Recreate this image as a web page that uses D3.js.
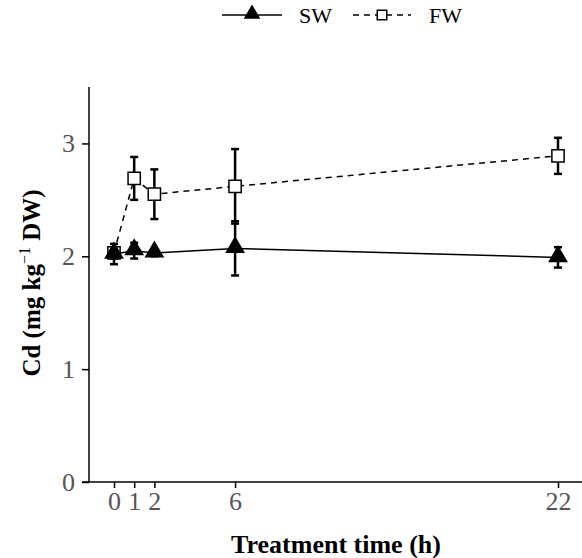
<!DOCTYPE html>
<html lang="en">
<head>
<meta charset="utf-8">
<script src="https://d3js.org/d3.v7.min.js"></script>
<style>
  body { margin: 0; background: #fff; }
  text { font-family: "Liberation Serif", "Times New Roman", serif; }
</style>
</head>
<body>
<script>
// hours sampled
var hours = [0, 1, 2, 6, 22];
// SW series: mean and error (SD)
var swMean = [2.02, 2.05, 2.03, 2.07, 1.99];
var swErr  = [0.09, 0.07, 0.03, 0.24, 0.09];
// FW series
var fwMean = [2.03, 2.69, 2.55, 2.62, 2.89];
var fwErr  = [0.05, 0.19, 0.22, 0.33, 0.16];
var yTicks = [0, 1, 2, 3];
var xTicks = [0, 1, 2, 6, 22];

var w = 582, h = 558;
var svg = d3.select("body").append("svg")
  .attr("width", w).attr("height", h);

var x = d3.scaleLinear().domain([0, 22]).range([114, 558]);
var y = d3.scaleLinear().domain([0, 3.5]).range([482, 87]);

var sw = hours.map((t, i) => ({t: t, v: swMean[i], e: swErr[i]}));
var fw = hours.map((t, i) => ({t: t, v: fwMean[i], e: fwErr[i]}));

// axes
var yAxis = svg.append("g")
  .attr("transform", "translate(89,0)")
  .call(d3.axisLeft(y).tickValues(yTicks).tickSize(7).tickPadding(7).tickFormat(d3.format("d")));
yAxis.select(".domain").attr("d", "M0,87V482").attr("stroke-width", 1.5);

var xAxis = svg.append("g")
  .attr("transform", "translate(0,482)")
  .call(d3.axisBottom(x).tickValues(xTicks).tickSize(6).tickPadding(4).tickFormat(d3.format("d")));
xAxis.select(".domain").attr("d", "M82,0H582").attr("stroke-width", 1.5);

svg.selectAll(".tick line").attr("stroke-width", 1.5);
svg.selectAll(".tick text")
  .attr("font-size", 26)
  .attr("fill", "#555")
  .style("font-family", "Liberation Serif, serif");

// axis titles
svg.append("text")
  .attr("x", 336).attr("y", 553)
  .attr("text-anchor", "middle")
  .attr("font-size", 26).attr("font-weight", "bold")
  .text("Treatment time (h)");

var yl = svg.append("text")
  .attr("transform", "translate(40,283) rotate(-90)")
  .attr("text-anchor", "middle")
  .attr("font-size", 25).attr("font-weight", "bold");
yl.append("tspan").text("Cd (mg kg");
yl.append("tspan").attr("dy", -10).attr("font-size", 16).attr("font-weight", "normal").text("\u22121");
yl.append("tspan").attr("dy", 10).text(" DW)");

var line = d3.line().x(d => x(d.t)).y(d => y(d.v));

// FW line (dashed)
svg.append("path").datum(fw)
  .attr("d", line).attr("fill", "none")
  .attr("stroke", "#000").attr("stroke-width", 1.5)
  .attr("stroke-dasharray", "6,5");

// SW line
svg.append("path").datum(sw)
  .attr("d", line).attr("fill", "none")
  .attr("stroke", "#000").attr("stroke-width", 1.5);

function errBars(data) {
  var g = svg.append("g").attr("stroke", "#000").attr("stroke-width", 2.5);
  data.forEach(d => {
    g.append("line").attr("x1", x(d.t)).attr("x2", x(d.t))
      .attr("y1", y(d.v - d.e)).attr("y2", y(d.v + d.e));
    [d.v - d.e, d.v + d.e].forEach(v => {
      g.append("line").attr("x1", x(d.t) - 4).attr("x2", x(d.t) + 4)
        .attr("y1", y(v)).attr("y2", y(v));
    });
  });
}
errBars(fw);
errBars(sw);

var sqr = d3.symbol().type(d3.symbolSquare).size(150);
var tri = d3.symbol().type(d3.symbolTriangle).size(170);

svg.append("g").selectAll("path").data(fw).join("path")
  .attr("transform", d => `translate(${x(d.t)},${y(d.v)})`)
  .attr("d", sqr).attr("fill", "#fff").attr("stroke", "#000").attr("stroke-width", 1.5);

svg.append("g").selectAll("path").data(sw).join("path")
  .attr("transform", d => `translate(${x(d.t)},${y(d.v) - 1})`)
  .attr("d", tri).attr("fill", "#000");

// legend
var lg = svg.append("g");
lg.append("line").attr("x1", 222).attr("x2", 282).attr("y1", 15).attr("y2", 15)
  .attr("stroke", "#000").attr("stroke-width", 1.5);
lg.append("path").attr("transform", "translate(252,14)").attr("d", d3.symbol().type(d3.symbolTriangle).size(120)).attr("fill", "#000");
lg.append("text").attr("x", 299).attr("y", 23).attr("font-size", 22).text("SW");
lg.append("line").attr("x1", 353).attr("x2", 411).attr("y1", 15).attr("y2", 15)
  .attr("stroke", "#000").attr("stroke-width", 1.5).attr("stroke-dasharray", "6,5");
lg.append("path").attr("transform", "translate(382,15)").attr("d", d3.symbol().type(d3.symbolSquare).size(90))
  .attr("fill", "#fff").attr("stroke", "#000").attr("stroke-width", 1.5);
lg.append("text").attr("x", 429).attr("y", 23).attr("font-size", 22).text("FW");
</script>
</body>
</html>
